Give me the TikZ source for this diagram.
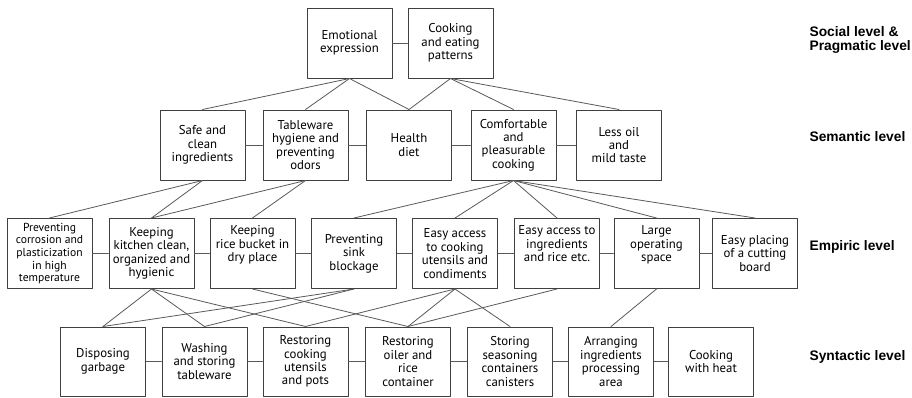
\documentclass[tikz,border=0pt]{standalone}
\usepackage{fontspec}
\setmainfont{PT Sans}
\newfontfamily\levelfont{Liberation Sans}
\begin{document}
\begin{tikzpicture}[line cap=round,line join=round,x=1pt,y=-1pt,
		box/.style={draw=black!75,line width=1pt,minimum width=85pt,minimum height=70pt,inner sep=1pt,align=center,font=\fontsize{12.8}{13.4}\selectfont},
		link/.style={draw=black!65,line width=0.8pt},
		level/.style={anchor=west,align=left,font=\levelfont\bfseries\fontsize{13.8}{14}\selectfont}]
				\useasboundingbox (0,0) rectangle (912,397);
				\node[box] (emo) at (349.5,43) {Emotional\\expression};
				\node[box] (cook) at (450.5,43) {Cooking\\and eating\\patterns};
				\node[box] (safe) at (202.5,145) {Safe and\\clean\\ingredients};
				\node[box] (table) at (305.5,145) {Tableware\\hygiene and\\preventing\\odors};
				\node[box] (health) at (409,145) {Health\\diet};
				\node[box] (comfort) at (513.5,145) {Comfortable\\and\\pleasurable\\cooking};
				\node[box] (lessoil) at (619,145) {Less oil\\and\\mild taste};
				\node[box,font=\fontsize{11.6}{12.6}\selectfont] (corrosion) at (49.5,253.5) {Preventing\\corrosion and\\plasticization\\in high\\temperature};
				\node[box] (kitchen) at (151.5,253.5) {Keeping\\kitchen clean,\\organized and\\hygienic};
				\node[box] (rice) at (252.5,253.5) {Keeping\\rice bucket in\\dry place\\[6pt]};
				\node[box] (sink) at (354,253.5) {Preventing\\sink\\blockage};
				\node[box] (cookacc) at (455,253.5) {Easy access\\to cooking\\utensils and\\condiments};
				\node[box] (ingracc) at (557,253.5) {Easy access to\\ingredients\\and rice etc.\\[6pt]};
				\node[box] (space) at (656.5,253.5) {Large\\operating\\space\\[6pt]};
				\node[box] (board) at (755,253.5) {Easy placing\\of a cutting\\board};
				\node[box,minimum height=69pt] (garbage) at (103,361.5) {Disposing\\garbage};
				\node[box,minimum height=69pt] (wash) at (204.5,361.5) {Washing\\and storing\\tableware};
				\node[box,minimum height=69pt] (restcook) at (305.5,361.5) {Restoring\\cooking\\utensils\\and pots};
				\node[box,minimum height=69pt] (restoil) at (408,361.5) {Restoring\\oiler and\\rice\\container};
				\node[box,minimum height=69pt] (season) at (510,361.5) {Storing\\seasoning\\containers\\canisters};
				\node[box,minimum height=69pt] (arrange) at (611,361.5) {Arranging\\ingredients\\processing\\area};
				\node[box,minimum height=69pt] (heat) at (711,361.5) {Cooking\\with heat};
				\node[level] (social) at (806,40) {Social level \&\\Pragmatic level};
				\node[level] (semantic) at (806,137) {Semantic level};
				\node[level] (empiric) at (806,247) {Empiric level};
				\node[level] (syntactic) at (806,357) {Syntactic level};
				\draw[link] (emo) -- (cook);
				\draw[link] (safe) -- (table) -- (health) -- (comfort) -- (lessoil);
				\draw[link] (corrosion) -- (kitchen) -- (rice) -- (sink) -- (cookacc) -- (ingracc) -- (space) -- (board);
				\draw[link] (garbage) -- (wash) -- (restcook) -- (restoil) -- (season) -- (arrange) -- (heat);
				\draw[link] (emo.south) -- (safe.north);
				\draw[link] (emo.south) -- (table.north);
				\draw[link] (emo.south) -- (health.north);
				\draw[link] (cook.south) -- (health.north);
				\draw[link] (cook.south) -- (comfort.north);
				\draw[link] (cook.south) -- (lessoil.north);
				\draw[link] (safe.south) -- (corrosion.north);
				\draw[link] (safe.south) -- (kitchen.north);
				\draw[link] (table.south) -- (kitchen.north);
				\draw[link] (table.south) -- (rice.north);
				\draw[link] (comfort.south) -- (sink.north);
				\draw[link] (comfort.south) -- (cookacc.north);
				\draw[link] (comfort.south) -- (ingracc.north);
				\draw[link] (comfort.south) -- (space.north);
				\draw[link] (comfort.south) -- (board.north);
				\draw[link] (kitchen.south) -- (garbage.north);
				\draw[link] (kitchen.south) -- (wash.north);
				\draw[link] (kitchen.south) -- (restcook.north);
				\draw[link] (rice.south) -- (restoil.north);
				\draw[link] (sink.south) -- (garbage.north);
				\draw[link] (sink.south) -- (wash.north);
				\draw[link] (cookacc.south) -- (restcook.north);
				\draw[link] (cookacc.south) -- (restoil.north);
				\draw[link] (cookacc.south) -- (season.north);
				\draw[link] (ingracc.south) -- (restoil.north);
				\draw[link] (space.south) -- (arrange.north);
\end{tikzpicture}
\end{document}
